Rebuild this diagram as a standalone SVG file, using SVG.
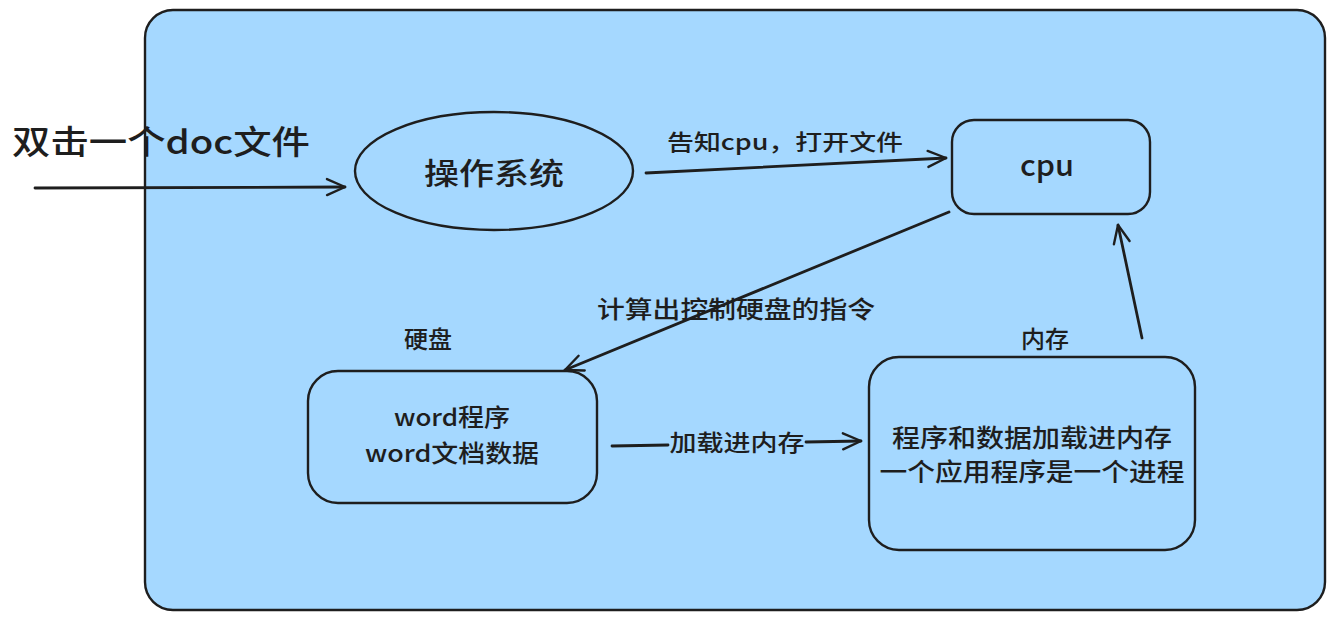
<svg xmlns="http://www.w3.org/2000/svg" width="1335" height="619" viewBox="0 0 1335 619">
<defs>
<marker id="ah" markerWidth="24" markerHeight="20" refX="20" refY="10" orient="auto" markerUnits="userSpaceOnUse">
<path d="M2,2 L20,10 L2,18" fill="none" stroke="#1e1e1e" stroke-width="2.4" stroke-linecap="round" stroke-linejoin="round"/>
</marker>
<style>
.shape{fill:#a5d8ff;stroke:#1e1e1e;stroke-width:2.4}
.node{fill:none;stroke:#1e1e1e;stroke-width:2.4}
.conn{fill:none;stroke:#1e1e1e;stroke-width:2.8;stroke-linecap:round;marker-end:url(#ah)}
text{font-family:"Noto Sans CJK SC","Noto Sans",sans-serif;font-weight:500;fill:#1e1e1e;text-anchor:middle;dominant-baseline:central}
</style>
</defs>
<rect class="shape" x="145" y="10" width="1180" height="600" rx="28"/>
<g id="label-doc"><text x="161" y="140" font-size="33" textLength="298" lengthAdjust="spacingAndGlyphs">双击一个doc文件</text></g>
<g id="os"><ellipse class="node" cx="494" cy="171" rx="139" ry="59"/><text x="494" y="171" font-size="30" textLength="140" lengthAdjust="spacingAndGlyphs">操作系统</text></g>
<g id="cpu"><rect class="node" x="952" y="120" width="198" height="94" rx="22"/><text x="1047" y="163" font-size="29" textLength="54" lengthAdjust="spacingAndGlyphs">cpu</text></g>
<g id="disk"><text x="428" y="337" font-size="24">硬盘</text><rect class="node" x="308" y="371" width="289" height="132" rx="30"/><text x="452" y="415" font-size="24" textLength="116" lengthAdjust="spacingAndGlyphs">word程序</text><text x="452" y="451" font-size="24" textLength="174" lengthAdjust="spacingAndGlyphs">word文档数据</text></g>
<g id="mem"><text x="1045" y="337" font-size="24">内存</text><rect class="node" x="869" y="357" width="326" height="193" rx="30"/><text x="1032" y="436" font-size="25" textLength="280" lengthAdjust="spacingAndGlyphs">程序和数据加载进内存</text><text x="1032" y="470" font-size="25" textLength="305" lengthAdjust="spacingAndGlyphs">一个应用程序是一个进程</text></g>
<g id="connectors">
<line class="conn" x1="35" y1="188" x2="345" y2="187"/>
<line class="conn" x1="646" y1="173" x2="946" y2="158"/>
<line class="conn" x1="949" y1="212" x2="565" y2="370"/>
<path class="conn" d="M612,446 L668,445 M806,442 L861,441"/>
<line class="conn" x1="1142" y1="338" x2="1118" y2="225"/>
<text x="785" y="140" font-size="22" textLength="236" lengthAdjust="spacingAndGlyphs">告知cpu，打开文件</text>
<text x="736" y="307" font-size="24" textLength="278" lengthAdjust="spacingAndGlyphs">计算出控制硬盘的指令</text>
<text x="737" y="441" font-size="23" textLength="135" lengthAdjust="spacingAndGlyphs">加载进内存</text>
</g>
</svg>
